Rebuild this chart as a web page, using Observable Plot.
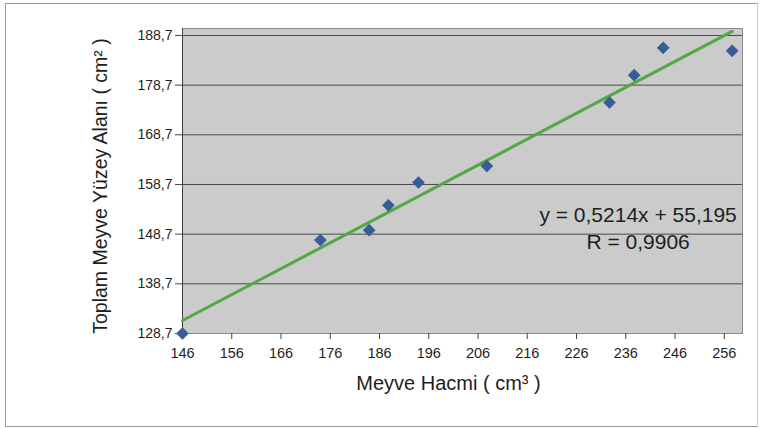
<!DOCTYPE html>
<html>
<head>
<meta charset="utf-8">
<script src="https://cdn.jsdelivr.net/npm/d3@7"></script>
<script src="https://cdn.jsdelivr.net/npm/@observablehq/plot@0.6"></script>
<style>
  html, body { margin: 0; padding: 0; background: #fff; }
  #wrap { position: relative; width: 763px; height: 429px; overflow: hidden; }
  #border {
    position: absolute; left: 5px; top: 3px; width: 751px; height: 422px;
    border: 1px solid #9a9a9a; border-right-color: #b8d4d4; pointer-events: none;
  }
</style>
</head>
<body>
<div id="wrap"><div id="border"></div></div>
<script>
// Fruit volume (cm³) vs. total fruit surface area (cm²)
const volume = [146, 174.0, 183.9, 187.8, 193.9, 207.8, 232.7, 237.7, 243.6, 257.6];
const area   = [128.7, 147.5, 149.5, 154.5, 159.1, 162.4, 175.2, 180.7, 186.2, 185.6];

// Linear trend: y = 0,5214x + 55,195 ; R = 0,9906
const slope = 0.5214;
const intercept = 55.195;
const rValue = "0,9906";

const xTicks = [146, 156, 166, 176, 186, 196, 206, 216, 226, 236, 246, 256];
const yTicks = [128.7, 138.7, 148.7, 158.7, 168.7, 178.7, 188.7];

const points = volume.map((v, i) => ({volume: v, area: area[i]}));
const xMin = d3.min(volume), xMax = d3.max(volume);
const trend = [xMin, xMax].map(x => ({volume: x, area: slope * x + intercept}));

const fmtComma = (d, digits) => d.toFixed(digits).replace(".", ",");
const eqText = `y = ${fmtComma(slope, 4)}x + ${fmtComma(intercept, 3)}`;
const rText = `R = ${rValue}`;

const chart = Plot.plot({
  width: 763,
  height: 429,
  marginLeft: 182,
  marginRight: 21,
  marginTop: 28,
  marginBottom: 96,
  style: {fontFamily: "'Liberation Sans', Arial, sans-serif", fontSize: "14px", color: "#1e1e1e", background: "transparent"},
  x: {domain: [146, 259.7]},
  y: {domain: [128.7, 190.1]},
  marks: [
    Plot.frame({fill: "#cbcbcb"}),
    Plot.ruleY(yTicks, {stroke: "#4a4a4a", strokeWidth: 1}),
    Plot.frame({stroke: "#8a8a8a"}),
    Plot.ruleX([146], {stroke: "#3c3c3c"}),
    Plot.axisY({ticks: yTicks, tickFormat: d => fmtComma(d, 1), tickSize: 7, tickPadding: 3, label: null, stroke: "#444", fontSize: 14}),
    Plot.axisX({ticks: xTicks, tickFormat: d => String(d), tickSize: 6, tickPadding: 8, label: null, stroke: "#444", fontSize: 14.5}),
    Plot.line(trend, {x: "volume", y: "area", stroke: "#52a843", strokeWidth: 3}),
    Plot.dot(points, {x: "volume", y: "area", symbol: "diamond2", r: 5.5, fill: "#385c96", stroke: "#385c96", strokeWidth: 0.5}),
    Plot.text([eqText], {x: 238.5, y: 152.5, text: d => d, fontSize: 21, textAnchor: "middle", fill: "#1e1e1e"}),
    Plot.text([rText], {x: 238.5, y: 147.0, text: d => d, fontSize: 21, textAnchor: "middle", fill: "#1e1e1e"}),
    Plot.text(["Toplam Meyve Yüzey Alanı ( cm² )"], {frameAnchor: "left", dx: -82, dy: 5, rotate: -90, textAnchor: "middle", lineAnchor: "middle", text: d => d, fontSize: 19.5, fill: "#1e1e1e"}),
    Plot.text(["Meyve Hacmi ( cm³ )"], {frameAnchor: "bottom", dy: 50, dx: -14, textAnchor: "middle", lineAnchor: "middle", text: d => d, fontSize: 20, fill: "#1e1e1e"})
  ]
});

document.getElementById("wrap").appendChild(chart);
</script>
</body>
</html>
